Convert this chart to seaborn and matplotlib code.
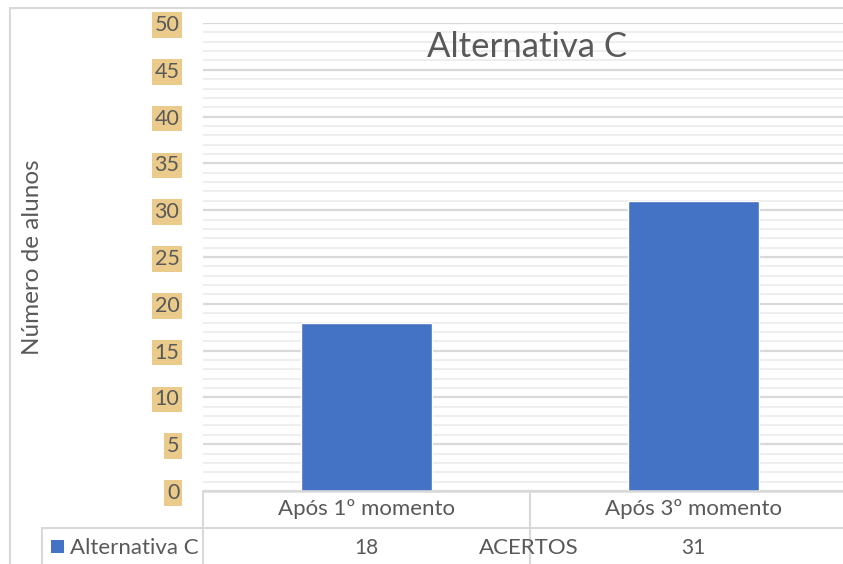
import matplotlib
matplotlib.use("Agg")
import matplotlib.pyplot as plt
from matplotlib.lines import Line2D
from matplotlib.patches import Rectangle
from matplotlib.ticker import MultipleLocator
import seaborn as sns
import pandas as pd

categories = ["Após 1º momento", "Após 3º momento"]
values = [18, 31]
series_name = "Alternativa C"
y_ticks = [0, 5, 10, 15, 20, 25, 30, 35, 40, 45, 50]

sns.set_theme(style="white")
plt.rcParams["font.family"] = ["Lato", "DejaVu Sans"]

W, H = 843, 564
fig = plt.figure(figsize=(W / 100, H / 100), dpi=100)

def fx(px):
    return px / W

def fy(py):
    return 1 - py / H

# plot area (extends past the right edge of the canvas)
left, right, top, bottom = 203, 857, 23, 491
ax = fig.add_axes([fx(left), fy(bottom), fx(right - left), (bottom - top) / H])

df = pd.DataFrame({"cat": categories, "val": values})
sns.barplot(data=df, x="cat", y="val", color="#4472C4", width=0.4,
            saturation=1, ax=ax, zorder=3)

ax.set_ylim(0, 50)
ax.set_xlim(-0.5, 1.5)
ax.yaxis.set_minor_locator(MultipleLocator(1))
ax.set_yticks(y_ticks)
ax.grid(axis="y", which="major", color="#D9D9D9", linewidth=1.6, zorder=0)
ax.grid(axis="y", which="minor", color="#EEEEEE", linewidth=1.4, zorder=0)
for s in ax.spines.values():
    s.set_visible(False)
ax.set_xlabel("")
ax.set_ylabel("")
ax.set_xticks([])
ax.tick_params(axis="y", which="both", length=0, pad=17)
for lbl in ax.get_yticklabels():
    lbl.set_fontsize(15.5)
    lbl.set_color("#595959")
    lbl.set_bbox(dict(facecolor="#EBCB8B", edgecolor="none", pad=2))

txt = "#595959"

# title
fig.text(fx(527), fy(47), series_name, ha="center", va="center",
         fontsize=25, color=txt)

# y axis title
fig.text(fx(33), fy(257), "Número de alunos", rotation=90, ha="center",
         va="center", fontsize=17.5, color=txt)

# chart frame
border = "#D9D9D9"
fig.add_artist(Line2D([fx(10), 1], [fy(8), fy(8)], color=border, lw=1.5))
fig.add_artist(Line2D([fx(10), fx(10)], [fy(8), 0], color=border, lw=1.5))

# data table lines
fig.add_artist(Line2D([fx(203), 1], [fy(491), fy(491)], color=border, lw=1.8))
fig.add_artist(Line2D([fx(42), 1], [fy(528), fy(528)], color=border, lw=1.5))
fig.add_artist(Line2D([fx(203), fx(203)], [fy(491), 0], color=border, lw=1.5))
fig.add_artist(Line2D([fx(530), fx(530)], [fy(491), 0], color=border, lw=1.5))
fig.add_artist(Line2D([fx(42), fx(42)], [fy(528), 0], color=border, lw=1.5))

# category header row and values row, positioned on the data axis
for i, (c, v) in enumerate(zip(categories, values)):
    xd = ax.transData.transform((i, 0))[0]
    xf = fig.transFigure.inverted().transform((xd, 0))[0]
    fig.text(xf, fy(509), c, ha="center", va="center", fontsize=16,
             color=txt)
    fig.text(xf, fy(548), str(v), ha="center", va="center", fontsize=15,
             color=txt)

# legend key in table
fig.add_artist(Rectangle((fx(51), fy(553)), fx(13), 13 / H,
                         facecolor="#4472C4", edgecolor="none"))
fig.text(fx(70), fy(548), series_name, ha="left", va="center", fontsize=16,
         color=txt)

# axis title of the category axis
fig.text(fx(529), fy(548), "ACERTOS", ha="center", va="center", fontsize=16,
         color=txt)

fig.savefig("out.png", dpi=100)
